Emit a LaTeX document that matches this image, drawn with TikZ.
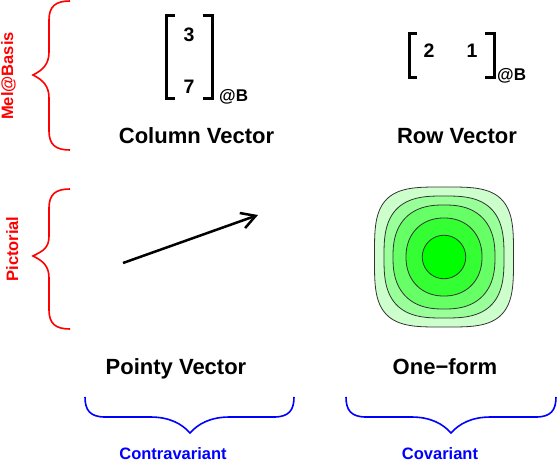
\documentclass[tikz,border=0pt]{standalone}
\usepackage{fontspec}
\setmainfont{Liberation Sans}
\usetikzlibrary{arrows.meta}
\definecolor{gA}{HTML}{CCFFCC}
\definecolor{gB}{HTML}{99FF99}
\definecolor{gC}{HTML}{66FF66}
\definecolor{gD}{HTML}{33FF33}
\definecolor{gE}{HTML}{00FF00}
\begin{document}
\begin{tikzpicture}[x=1pt,y=-1pt,
  lbl/.style={font=\fontsize{22}{26}\selectfont\bfseries, inner sep=0pt, anchor=base},
  num/.style={font=\fontsize{19.5}{22}\selectfont\bfseries, inner sep=0pt, anchor=base},
  subl/.style={font=\fontsize{17}{20}\selectfont\bfseries, inner sep=0pt, anchor=base west},
  side/.style={font=\fontsize{16.5}{20}\selectfont\bfseries, inner sep=0pt, anchor=base, text=red, rotate=90},
  bot/.style={font=\fontsize{16.5}{20}\selectfont\bfseries, inner sep=0pt, anchor=base, text=blue},
  bracketline/.style={line width=3pt},
  redbrace/.style={draw=red, line width=1.6pt},
  bluebrace/.style={draw=blue, line width=1.6pt},
  contour/.style={draw=black!80, line width=0.8pt},
  vec/.style={line width=2.5pt, -{Straight Barb[length=14pt,width=16pt]}},
]
\useasboundingbox (0,0) rectangle (557,463);

% side labels and braces
\node[side] (melbasis) at (13,76) {Mel@Basis};
\node[side] (pictorial) at (18,249) {Pictorial};
\draw[redbrace] (70,1) .. controls (56,1) and (49,6) .. (49,20) -- (49,52)
  .. controls (49,64) and (43,70) .. (33,75) .. controls (43,80) and (49,86) .. (49,98)
  -- (49,131) .. controls (49,145) and (56,150) .. (70,150);
\draw[redbrace] (70,189) .. controls (56,189) and (49,194) .. (49,208) -- (49,236)
  .. controls (49,248) and (43,251) .. (33,256) .. controls (43,261) and (49,266) .. (49,278)
  -- (49,310) .. controls (49,324) and (56,329) .. (70,329);

% bottom braces and labels
\draw[bluebrace] (85,397) .. controls (85,410) and (90,417) .. (105,417) -- (150,417)
  .. controls (170,417) and (182,424) .. (190,433) .. controls (198,424) and (210,417) .. (230,417)
  -- (274,417) .. controls (289,417) and (294,410) .. (294,397);
\draw[bluebrace] (346,397) .. controls (346,410) and (351,417) .. (366,417) -- (411,417)
  .. controls (431,417) and (443,424) .. (451,433) .. controls (459,424) and (471,417) .. (491,417)
  -- (536,417) .. controls (551,417) and (556,410) .. (556,397);
\node[bot] (contra) at (173,459.5) {Contravariant};
\node[bot] (cova) at (440,459.5) {Covariant};

% column vector
\draw[bracketline] (175,15) -- (166,15) -- (166,98) -- (175,98);
\draw[bracketline] (203,15) -- (212,15) -- (212,98) -- (203,98);
\node[num] (c3) at (189,41.5) {3};
\node[num] (c7) at (189,93) {7};
\node[subl] (cB) at (219,101) {@B};
\node[lbl] (colvec) at (196.5,143) {Column Vector};

% row vector
\draw[bracketline] (417,33) -- (409,33) -- (409,77) -- (417,77);
\draw[bracketline] (485,33) -- (494,33) -- (494,77) -- (485,77);
\node[num] (r2) at (429,57) {2};
\node[num] (r1) at (472,57) {1};
\node[subl] (rB) at (497,80) {@B};
\node[lbl] (rowvec) at (457,143) {Row Vector};

% pointy vector
\coordinate (as) at (123,263);
\coordinate (ae) at (258,215);
\draw[vec] (as) -- (ae);
\node[lbl] (pointy) at (176,374) {Pointy Vector};

% one-form
\foreach \a/\b/\n/\c in {69.5/70/3.6/gA, 60/61/2.9/gB, 51/52/2.45/gC, 38/39/2.15/gD, 21.7/21.7/2/gE}{
  \filldraw[contour, fill=\c] plot[domain=1:359, samples=180, smooth]
    ({444+\a*sign(cos(\x))*abs(cos(\x))^(2/\n)}, {257+\b*sign(sin(\x))*abs(sin(\x))^(2/\n)}) -- cycle;
}
\node[lbl] (oneform) at (445,374) {One−form};
\end{tikzpicture}
\end{document}
